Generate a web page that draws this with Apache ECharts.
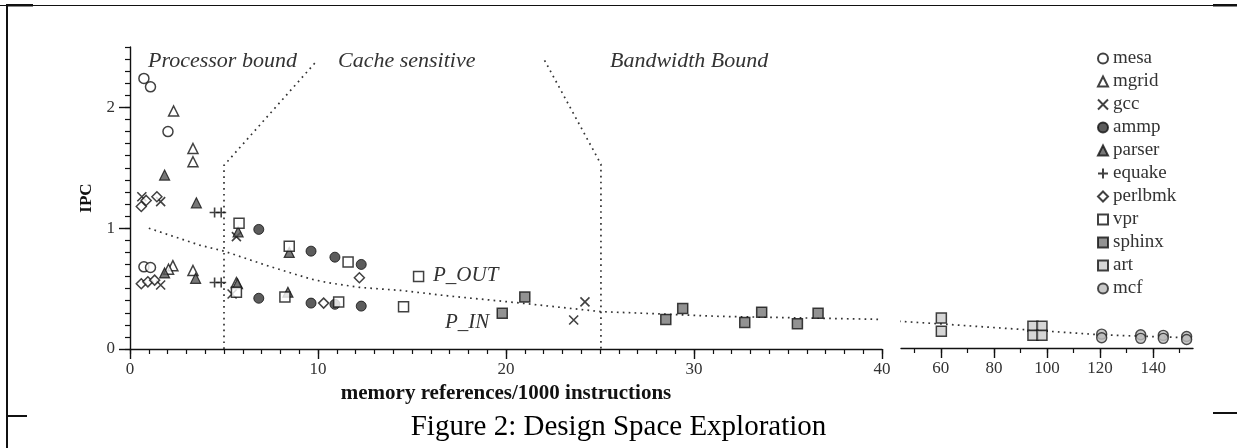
<!DOCTYPE html>
<html><head><meta charset="utf-8">
<script src="https://cdn.jsdelivr.net/npm/echarts@6/dist/echarts.min.js"></script>
<style>html,body{margin:0;padding:0;background:#fff}#c{width:1237px;height:448px}</style>
</head><body><div id="c"></div>
<script>
// ---- data ----
const benchmarks = ['mesa','mgrid','gcc','ammp','parser','equake','perlbmk','vpr','sphinx','art','mcf'];
const leftXTicks = [0,10,20,30,40];
const rightXMinor = [50,60,70,80,90,100,110,120,130,140,150];
const rightXMajor = [60,80,100,120,140];
const yTicks = [0,1,2];
const mesa = [[0.74,2.24],[1.09,2.17],[2.02,1.80],[0.74,0.68],[1.09,0.675]];
const mgrid = [[2.32,1.97],[3.35,1.66],[3.35,1.55],[2.28,0.69],[2.05,0.66],[3.35,0.65],[5.66,0.55]];
const gcc = [[0.63,1.26],[1.63,1.22],[1.63,0.53],[5.66,0.93],[5.43,0.455],[24.2,0.39],[23.6,0.24]];
const ammp = [[6.85,0.99],[9.63,0.81],[10.9,0.76],[12.3,0.70],[6.85,0.42],[9.63,0.38],[10.9,0.37],[12.3,0.355]];
const parser = [[1.84,1.44],[3.53,1.21],[1.84,0.63],[3.49,0.585],[5.75,0.97],[8.47,0.80],[5.72,0.54],[8.4,0.47]];
const equake = [[4.5,1.13],[4.85,1.13],[4.5,0.55],[4.85,0.55]];
const perlbmk = [[0.6,1.18],[0.86,1.23],[1.43,1.26],[0.6,0.54],[0.95,0.556],[1.31,0.57],[12.2,0.59],[10.3,0.38]];
const vpr = [[5.8,1.04],[5.66,0.47],[8.47,0.85],[11.6,0.72],[15.35,0.60],[8.24,0.43],[11.1,0.39],[14.55,0.35]];
const sphinx = [[19.8,0.295],[21.0,0.43],[28.5,0.245],[29.4,0.335],[32.7,0.22],[33.6,0.305],[35.5,0.21],[36.6,0.295]];
const art = [[60.2,0.25],[60.2,0.14],[94.7,0.18],[98.1,0.18],[94.7,0.105],[98.1,0.105]];
const mcf = [[120.6,0.115],[120.6,0.085],[135.3,0.11],[135.3,0.08],[143.8,0.105],[143.8,0.08],[152.6,0.095],[152.6,0.07]];
const boundaryPC = [[5,0],[5,1.52],[9.85,2.37]];
const boundaryCB = [[22.05,2.39],[25.05,1.53],[25.05,0]];
const splitLeft = [[1,1.0],[3.7,0.86],[5,0.81],[7.3,0.69],[9.6,0.58],[10.5,0.55],[12.2,0.51],[14.4,0.485],[16.9,0.44],[20.8,0.38],[25,0.31],[31.4,0.27],[40,0.245]];
const splitRight = [[42,0.225],[60,0.2],[100,0.14],[120,0.11],[153,0.085]];

// ---- styles ----
const SERIF = 'Liberation Serif';
const INK = '#111';
const open = {color:'#fff', borderColor:INK, borderWidth:1.5};
const stroke = {color:'rgba(0,0,0,0)', borderColor:INK, borderWidth:1.6};
const X_PATH = 'path://M0,0L10,10M10,0L0,10';
const PLUS_PATH = 'path://M5,0L5,10M0,5L10,5';
const styles = {
  mesa:{symbol:'circle', size:10, item:open},
  mgrid:{symbol:'triangle', size:10, item:open},
  gcc:{symbol:X_PATH, size:9, item:stroke},
  ammp:{symbol:'circle', size:10, item:{color:'#333', borderColor:INK, borderWidth:1}},
  parser:{symbol:'triangle', size:10, item:{color:'#555', borderColor:INK, borderWidth:1.2}},
  equake:{symbol:PLUS_PATH, size:10, item:stroke},
  perlbmk:{symbol:'diamond', size:10, item:open},
  vpr:{symbol:'rect', size:10, item:open},
  sphinx:{symbol:'rect', size:10, item:{color:'#777', borderColor:INK, borderWidth:1.5}},
  art:{symbol:'rect', size:10, item:{color:'#ccc', borderColor:INK, borderWidth:1.5}},
  mcf:{symbol:'circle', size:10, item:{color:'#bbb', borderColor:'#222', borderWidth:1.4}}
};
const dataMap = {mesa,mgrid,gcc,ammp,parser,equake,perlbmk,vpr,sphinx,art,mcf};
const rightSet = {art:true, mcf:true};

const dotted = {color:'#333', width:1.7, type:[1.7,4.2], cap:'butt'};
function lineSeries(data, xi, yi){
  return {type:'line', data, xAxisIndex:xi, yAxisIndex:yi, symbol:'none', silent:true,
    clip:false, lineStyle:dotted, z:1, animation:false};
}
const series = [
  lineSeries(boundaryPC,0,0), lineSeries(boundaryCB,0,0),
  lineSeries(splitLeft,0,0), lineSeries(splitRight,2,2)
];
benchmarks.forEach(n=>{
  const s = styles[n];
  const r = rightSet[n];
  series.push({name:n, type:'scatter', data:dataMap[n], xAxisIndex:r?2:0, yAxisIndex:r?2:0,
    symbol:s.symbol, symbolSize:s.size, itemStyle:s.item, z:3});
});

const labelStyle = {fontFamily:SERIF, fontSize:17, color:'#333'};
const axisLine = {show:true, lineStyle:{color:INK, width:1.4}};
const option = {
  animation:false,
  backgroundColor:'#fff',
  grid:[
    {left:130, top:47, width:752, height:302},
    {left:901, top:47, width:292, height:301}
  ],
  xAxis:[
    {gridIndex:0, type:'value', min:0, max:40, interval:1, position:'bottom',
     axisLine, splitLine:{show:false},
     axisTick:{show:true, length:5, lineStyle:{color:INK, width:1.2}},
     axisLabel:Object.assign({customValues:leftXTicks, margin:12}, labelStyle),
     name:'memory references/1000 instructions', nameLocation:'middle', nameGap:31,
     nameTextStyle:{fontFamily:SERIF, fontSize:21, fontWeight:'bold', color:INK}},
    {gridIndex:0, type:'value', min:0, max:40, position:'bottom',
     axisLine:{show:false}, splitLine:{show:false},
     axisTick:{show:true, length:10, customValues:leftXTicks, lineStyle:{color:INK, width:1.4}},
     axisLabel:{show:false}},
    {gridIndex:1, type:'value', min:45, max:155, position:'bottom',
     axisLine, splitLine:{show:false},
     axisTick:{show:true, length:5, customValues:rightXMinor, lineStyle:{color:INK, width:1.2}},
     axisLabel:Object.assign({customValues:rightXMajor, margin:12}, labelStyle)},
    {gridIndex:1, type:'value', min:45, max:155, position:'bottom',
     axisLine:{show:false}, splitLine:{show:false},
     axisTick:{show:true, length:10, customValues:rightXMajor, lineStyle:{color:INK, width:1.4}},
     axisLabel:{show:false}}
  ],
  yAxis:[
    {gridIndex:0, type:'value', min:0, max:2.5, interval:0.1, position:'left',
     axisLine, splitLine:{show:false},
     axisTick:{show:true, length:5, lineStyle:{color:INK, width:1.2}},
     axisLabel:Object.assign({customValues:yTicks, margin:15}, labelStyle),
     name:'IPC', nameLocation:'middle', nameGap:17, nameRotate:90,
     nameTextStyle:{fontFamily:SERIF, fontSize:17, fontWeight:'bold', color:INK}},
    {gridIndex:0, type:'value', min:0, max:2.5, position:'left',
     axisLine:{show:false}, splitLine:{show:false},
     axisTick:{show:true, length:11, customValues:yTicks, lineStyle:{color:INK, width:1.4}},
     axisLabel:{show:false}},
    {gridIndex:1, type:'value', min:0, max:2.5, show:false}
  ],
  legend:{
    data:benchmarks, orient:'vertical', left:1092, top:44,
    itemWidth:10, itemHeight:10, itemGap:4, selectedMode:false,
    textStyle:{fontFamily:SERIF, fontSize:19, color:'#333'}
  },
  graphic:[
    {type:'rect', shape:{x:0,y:5,width:1237,height:1}, style:{fill:INK}, silent:true},
    {type:'rect', shape:{x:6,y:4,width:27,height:2.5}, style:{fill:INK}, silent:true},
    {type:'rect', shape:{x:1213,y:4,width:24,height:2.5}, style:{fill:INK}, silent:true},
    {type:'rect', shape:{x:6,y:4,width:2,height:444}, style:{fill:INK}, silent:true},
    {type:'rect', shape:{x:6,y:415,width:21,height:2}, style:{fill:INK}, silent:true},
    {type:'rect', shape:{x:1213,y:412,width:24,height:2}, style:{fill:INK}, silent:true},
    {type:'text', left:148, top:50, style:{text:'Processor bound', fontFamily:SERIF, fontStyle:'italic', fontSize:22, fill:'#333'}},
    {type:'text', left:338, top:50, style:{text:'Cache sensitive', fontFamily:SERIF, fontStyle:'italic', fontSize:22, fill:'#333'}},
    {type:'text', left:610, top:50, style:{text:'Bandwidth Bound', fontFamily:SERIF, fontStyle:'italic', fontSize:22, fill:'#333'}},
    {type:'text', left:433, top:265, style:{text:'P_OUT', fontFamily:SERIF, fontStyle:'italic', fontSize:21, fill:'#333'}},
    {type:'text', left:445, top:312, style:{text:'P_IN', fontFamily:SERIF, fontStyle:'italic', fontSize:21, fill:'#333'}},
    {type:'text', left:'center', top:413, style:{text:'Figure 2: Design Space Exploration', fontFamily:SERIF, fontSize:29, fill:'#000'}}
  ],
  series
};
const chart = echarts.init(document.getElementById('c'), null, {renderer:'canvas'});
chart.setOption(option);
</script>
</body></html>
